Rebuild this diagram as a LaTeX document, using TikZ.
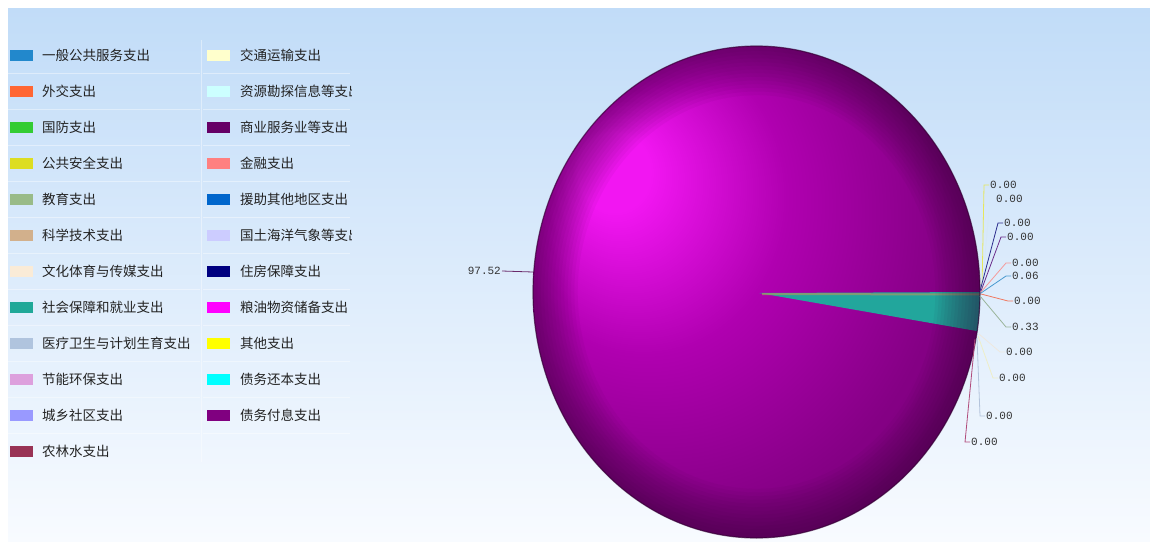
\documentclass[tikz,border=0pt]{standalone}
\usepackage{fontspec}
\usetikzlibrary{calc}
\newfontfamily\cjk{Noto Sans CJK SC}
\newfontfamily\numfont{Liberation Mono}
% background and pie colours
\definecolor{bgTop}{HTML}{C1DCF8}
\definecolor{bgBot}{HTML}{F8FBFF}
\definecolor{pieHi}{HTML}{F216F2}
\definecolor{pieMid}{HTML}{B000B0}
\definecolor{piePurple}{HTML}{840084}
\definecolor{pieLow}{HTML}{620062}
\definecolor{rimDark}{HTML}{300030}
\definecolor{tealFill}{HTML}{22A69C}
\definecolor{tealStripe}{HTML}{A49A64}
\definecolor{legText}{HTML}{222222}
\definecolor{valText}{HTML}{333333}
% legend colours
\definecolor{cA}{HTML}{2288CC}
\definecolor{cB}{HTML}{FF6633}
\definecolor{cC}{HTML}{33CC33}
\definecolor{cD}{HTML}{DDDD22}
\definecolor{cE}{HTML}{99BB88}
\definecolor{cF}{HTML}{D2B08C}
\definecolor{cG}{HTML}{FAEBD7}
\definecolor{cH}{HTML}{20A898}
\definecolor{cI}{HTML}{B0C4DE}
\definecolor{cJ}{HTML}{DDA0DD}
\definecolor{cK}{HTML}{9999FF}
\definecolor{cL}{HTML}{993355}
\definecolor{cM}{HTML}{FFFFCC}
\definecolor{cN}{HTML}{CCFFFF}
\definecolor{cO}{HTML}{660066}
\definecolor{cP}{HTML}{FF8080}
\definecolor{cQ}{HTML}{0066CC}
\definecolor{cR}{HTML}{CCCCFF}
\definecolor{cS}{HTML}{000080}
\definecolor{cT}{HTML}{FF00FF}
\definecolor{cU}{HTML}{FFFF00}
\definecolor{cV}{HTML}{00FFFF}
\definecolor{cW}{HTML}{800080}
% leader colours
\definecolor{ldA}{HTML}{E6E65C}
\definecolor{ldB}{HTML}{D6E8F6}
\definecolor{ldC}{HTML}{2B2B8C}
\definecolor{ldD}{HTML}{6B2D8B}
\definecolor{ldE}{HTML}{F59A9A}
\definecolor{ldF}{HTML}{4A9ACF}
\definecolor{ldG}{HTML}{F07860}
\definecolor{ldH}{HTML}{9AB49A}
\definecolor{ldI}{HTML}{EFE8DE}
\definecolor{ldJ}{HTML}{EEEEC8}
\definecolor{ldK}{HTML}{B4C4DC}
\definecolor{ldL}{HTML}{B04A7A}
\definecolor{ldBig}{HTML}{6A2A6A}
\pgfdeclareradialshading{pieglow}{\pgfpoint{-17bp}{13bp}}{color(0bp)=(pieHi); color(4bp)=(pieHi); color(16bp)=(pieMid); color(30bp)=(piePurple); color(62bp)=(pieLow)}
\tikzset{
    swatch/.style={minimum width=23pt, minimum height=11pt, inner sep=0pt},
    legtext/.style={anchor=west, inner sep=0pt, text=legText, font=\cjk\fontsize{13.5}{14}\selectfont},
    vallabel/.style={anchor=west, inner sep=1pt, text=valText, font=\numfont\fontsize{11}{12}\selectfont},
    sepline/.style={white, opacity=0.4, line width=0.8pt},
    leader/.style={line width=0.8pt},
    pierim/.style={x radius=223.5pt, y radius=246pt}
}

\begin{document}
\begin{tikzpicture}[x=1pt, y=-1pt]
    \useasboundingbox (0,0) rectangle (1150,541);
    \fill[white] (0,0) rectangle (1150,541);
    \shade[top color=bgTop, bottom color=bgBot] (8,8) rectangle (1150,541);
    % pie
    \coordinate (pie) at (756.5,292);
    \shade[shading=pieglow] (pie) ellipse [pierim];
    \begin{scope}
        \clip (pie) ellipse [pierim];
        \fill[tealFill] (759,293) -- (985,292) -- (985,332.5) -- cycle;
        \draw[tealStripe, line width=2pt, opacity=0.7] (762,294) -- (985,294.5);
    \end{scope}
    % darker rim, ring by ring
    \foreach \s in {0.80,0.815,...,0.995} {
        \fill[rimDark, opacity=0.045, even odd rule] (pie) ellipse [pierim]
            (pie) ellipse [x radius=\s*223.5pt, y radius=\s*246pt];
    }
    \draw[rimDark, line width=1.2pt, opacity=0.6] (pie) ellipse [pierim];
    % value labels on the right
    \foreach \rx/\ry/\lx/\ly/\lc/\lt [count=\i] in {
        982/289/989/185/ldA/0.00, 982/290/995/199/ldB/0.00,
        980/291/1003/223/ldC/0.00, 981/291/1006/237/ldD/0.00,
        981/292/1011/263/ldE/0.00, 981/293/1011/276/ldF/0.06,
        981/294/1013/301/ldG/0.00, 980/296/1011/327/ldH/0.33,
        979/334/1005/352/ldI/0.00, 978/336/998/378/ldJ/0.00,
        977/338/985/416/ldK/0.00, 975/339/970/442/ldL/0.00} {
        \coordinate (rim\i) at (\rx,\ry);
        \node[vallabel] (val\i) at (\lx,\ly) {\lt};
        \draw[leader, \lc] (rim\i) -- ([xshift=-5pt]val\i.west) -- (val\i.west);
    }
    \coordinate (rimBig) at (533,272);
    \node[vallabel, anchor=east] (valBig) at (502,271) {97.52};
    \draw[leader, ldBig] (valBig.east) -- (rimBig);
    % legend
    \foreach \i in {1,...,11} {
        \draw[sepline] (8,{37+36*\i}) -- (200,{37+36*\i});
        \draw[sepline] (203,{37+36*\i}) -- (350,{37+36*\i});
    }
    \draw[sepline] (201.5,40) -- (201.5,462);
    \foreach \c/\t [count=\i] in {cA/一般公共服务支出, cB/外交支出, cC/国防支出,
        cD/公共安全支出, cE/教育支出, cF/科学技术支出, cG/文化体育与传媒支出,
        cH/社会保障和就业支出, cI/医疗卫生与计划生育支出, cJ/节能环保支出,
        cK/城乡社区支出, cL/农林水支出} {
        \node[swatch, fill=\c] (swL\i) at (21.5,{19+36*\i}) {};
        \node[legtext] (txL\i) at (42,{19+36*\i}) {\t};
    }
    \begin{scope}
        \clip (203,30) rectangle (351,470);
        \foreach \c/\t [count=\i] in {cM/交通运输支出, cN/资源勘探信息等支出,
            cO/商业服务业等支出, cP/金融支出, cQ/援助其他地区支出,
            cR/国土海洋气象等支出, cS/住房保障支出, cT/粮油物资储备支出,
            cU/其他支出, cV/债务还本支出, cW/债务付息支出} {
            \node[swatch, fill=\c] (swR\i) at (218.5,{19+36*\i}) {};
            \node[legtext] (txR\i) at (240,{19+36*\i}) {\t};
        }
    \end{scope}
\end{tikzpicture}
\end{document}
